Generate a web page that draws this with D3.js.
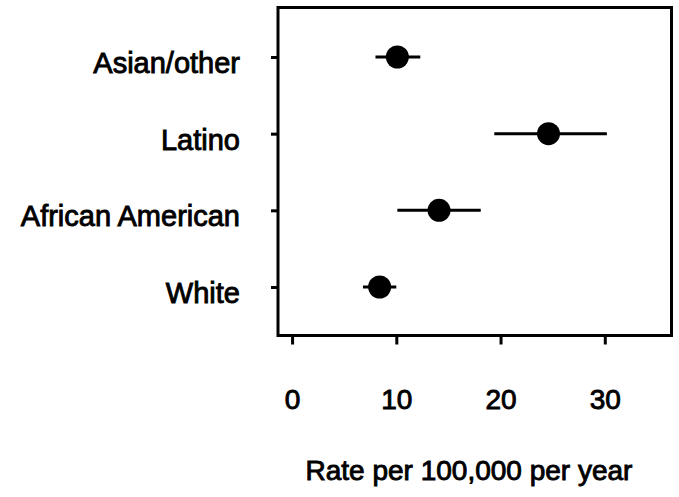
<!DOCTYPE html>
<html><head><meta charset="utf-8">
<script src="https://cdn.jsdelivr.net/npm/d3@7"></script>
<style>html,body{margin:0;padding:0;background:#fff;}svg{display:block;}</style>
</head><body>
<script>
const categories = ["Asian/other", "Latino", "African American", "White"];
const rates = [10.1, 24.6, 14.1, 8.4];
const lower = [8.0, 19.4, 10.1, 6.8];
const upper = [12.3, 30.2, 18.1, 10.0];
const xTicks = [0, 10, 20, 30];
const xTitle = "Rate per 100,000 per year";

const W = 679, H = 497;
const pL = 278, pR = 671.5, pT = 7.5, pB = 335.5;
const svg = d3.select("body").append("svg").attr("width", W).attr("height", H);
const font = "'Liberation Sans', Arial, Helvetica, sans-serif";

const x = d3.scaleLinear().domain([-1.35, 36.4]).range([pL, pR]);
const y = d3.scalePoint().domain(categories).range([57, 287]);

// frame
svg.append("rect").attr("x", pL).attr("y", pT)
  .attr("width", pR - pL).attr("height", pB - pT)
  .attr("fill", "none").attr("stroke", "#000").attr("stroke-width", 3);

// x axis
const xa = svg.append("g").attr("transform", `translate(0,${pB})`)
  .call(d3.axisBottom(x).tickValues(xTicks).tickSize(9).tickPadding(45).tickFormat(d3.format("d")));
xa.select(".domain").remove();
xa.selectAll("line").attr("stroke", "#000").attr("stroke-width", 3);
xa.selectAll("text").attr("font-family", font).attr("font-size", 28).attr("fill", "#000")
  .attr("stroke", "#000").attr("stroke-width", 0.9);

// y axis
const ya = svg.append("g").attr("transform", `translate(${pL},0)`)
  .call(d3.axisLeft(y).tickSize(7).tickPadding(31));
ya.select(".domain").remove();
ya.selectAll("line").attr("stroke", "#000").attr("stroke-width", 3);
ya.selectAll("text").attr("font-family", font).attr("font-size", 29).attr("fill", "#000")
  .attr("dy", "0.53em").attr("stroke", "#000").attr("stroke-width", 0.9);

// error bars
svg.append("g").selectAll("line").data(categories).join("line")
  .attr("x1", (d, i) => x(lower[i])).attr("x2", (d, i) => x(upper[i]))
  .attr("y1", d => y(d)).attr("y2", d => y(d))
  .attr("stroke", "#000").attr("stroke-width", 3);

// points
svg.append("g").selectAll("circle").data(categories).join("circle")
  .attr("cx", (d, i) => x(rates[i])).attr("cy", d => y(d)).attr("r", 11.5)
  .attr("fill", "#000");

// x title
svg.append("text").attr("x", 469).attr("y", 480).attr("text-anchor", "middle")
  .attr("font-family", font).attr("font-size", 28).attr("fill", "#000")
  .attr("stroke", "#000").attr("stroke-width", 0.9).text(xTitle);
</script>
</body></html>
